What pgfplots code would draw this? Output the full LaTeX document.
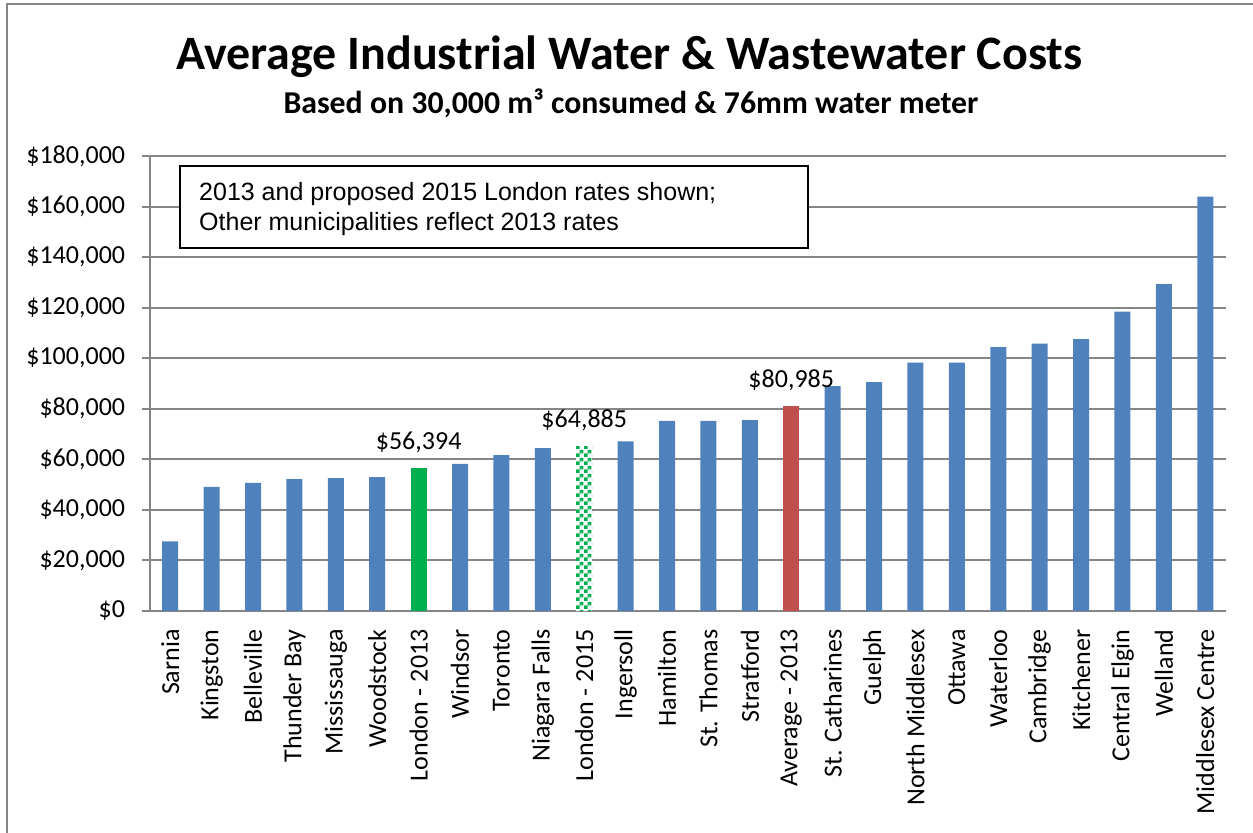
\documentclass[border=0pt]{standalone}
\usepackage{fontspec}
\setmainfont{Carlito}
\newfontfamily\arialfont{Liberation Sans}
\usepackage{pgfplots}
\pgfplotsset{compat=1.18}
\usetikzlibrary{patterns}

\definecolor{xblue}{HTML}{4F81BD}
\definecolor{xgreen}{HTML}{00B050}
\definecolor{xred}{HTML}{C0504D}
\definecolor{xgrid}{RGB}{134,134,134}

\pgfdeclarepatternformonly{mychecker}{\pgfpointorigin}{\pgfqpoint{4bp}{4bp}}{\pgfqpoint{4bp}{4bp}}{%
  \pgfpathrectangle{\pgfpointorigin}{\pgfqpoint{2bp}{2bp}}%
  \pgfpathrectangle{\pgfqpoint{2bp}{2bp}}{\pgfqpoint{2bp}{2bp}}%
  \pgfusepath{fill}}

\begin{document}
\begin{tikzpicture}
\useasboundingbox (0,0) rectangle (626.5bp,416.5bp);
% outer chart frame (top and left visible)
\draw[xgrid, line width=1bp] (3.4bp,0) -- (3.4bp,414.5bp) -- (626.5bp,414.5bp);

\begin{axis}[
  at={(74.75bp,111bp)}, anchor=south west,
  scale only axis, width=538.25bp, height=227.5bp,
  ybar, bar width=8bp, bar shift=0pt,
  xmin=-0.5, xmax=25.5, ymin=0, ymax=180000,
  scaled y ticks=false,
  axis x line*=bottom, axis y line*=left,
  axis line style={xgrid, line width=1bp},
  xtick={0,...,25},
  xticklabels={Sarnia,Kingston,Belleville,Thunder Bay,Mississauga,Woodstock,London - 2013,Windsor,Toronto,Niagara Falls,London - 2015,Ingersoll,Hamilton,St. Thomas,Stratford,Average - 2013,St. Catharines,Guelph,North Middlesex,Ottawa,Waterloo,Cambridge,Kitchener,Central Elgin,Welland,Middlesex Centre},
  x tick style={draw=none},
  xticklabel style={rotate=90, anchor=east, inner sep=0pt, font=\fontsize{13bp}{15bp}\selectfont},
  xticklabel shift=5.5bp,
  extra x ticks={-0.5,0.5,...,25.5},
  extra x tick labels={},
  extra x tick style={tick align=outside, major tick length=4bp, grid=none,
     major tick style={draw=xgrid, line width=1bp}},
  ytick={0,20000,...,180000},
  yticklabels={\$0,{\$20,000},{\$40,000},{\$60,000},{\$80,000},{\$100,000},{\$120,000},{\$140,000},{\$160,000},{\$180,000}},
  y tick style={draw=xgrid, line width=1bp},
  tick align=outside, major tick length=3.5bp,
  yticklabel style={inner sep=0pt, anchor=east, font=\fontsize{13bp}{15bp}\selectfont},
  yticklabel shift=8.5bp,
  ymajorgrids, grid style={xgrid, line width=1bp},
  every node near coord/.append style={anchor=base, yshift=9.5bp, font=\fontsize{13bp}{15bp}\selectfont, text=black},
]
\addplot[fill=xblue, draw=none] coordinates {
 (0,27540) (1,49150) (2,50730) (3,52180) (4,52580) (5,52970)
 (7,58240) (8,61670) (9,64440) (11,67070) (12,75240) (13,75240) (14,75500)
 (16,88950) (17,90530) (18,98300) (19,98300) (20,104360) (21,105810) (22,107530)
 (23,118460) (24,129270) (25,163920)};
\addplot[fill=xgreen, draw=none, nodes near coords={\$56,394}] coordinates {(6,56394)};
\addplot[fill=white, draw=none, postaction={pattern=mychecker, pattern color=xgreen}, nodes near coords={\$64,885}] coordinates {(10,64885)};
\addplot[fill=xred, draw=none, nodes near coords={\$80,985}] coordinates {(15,80985)};
\end{axis}

% titles
\node[anchor=base, font=\fontsize{24bp}{28bp}\selectfont\bfseries, inner sep=0pt] at (314.75bp,381.5bp) {Average Industrial Water \& Wastewater Costs};
\node[anchor=base, font=\fontsize{15.9bp}{19bp}\selectfont\bfseries, inner sep=0pt] at (315.5bp,359.5bp) {Based on 30,000 m³ consumed \& 76mm water meter};

% annotation box
\draw[black, line width=1bp, fill=white] (90bp,292.5bp) rectangle (404bp,333.5bp);
\node[anchor=base west, inner sep=0pt, font=\arialfont\fontsize{12.5bp}{15bp}\selectfont] at (99.4bp,316bp) {2013 and proposed 2015 London rates shown;};
\node[anchor=base west, inner sep=0pt, font=\arialfont\fontsize{12.5bp}{15bp}\selectfont] at (99.4bp,301.2bp) {Other municipalities reflect 2013 rates};
\end{tikzpicture}
\end{document}
